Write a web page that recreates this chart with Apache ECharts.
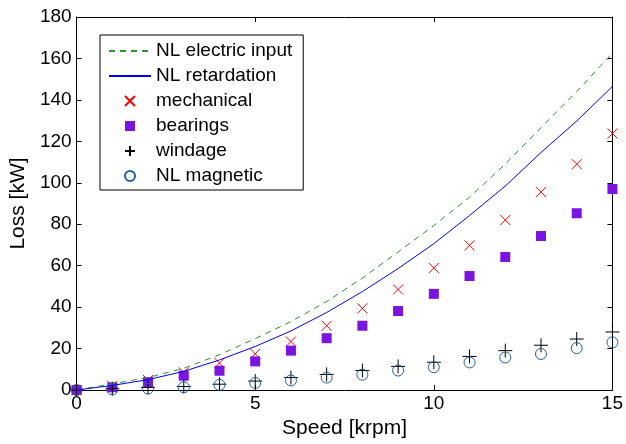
<!DOCTYPE html>
<html>
<head>
<meta charset="utf-8">
<script src="https://cdn.jsdelivr.net/npm/echarts@6/dist/echarts.min.js"></script>
<style>
html,body{margin:0;padding:0;background:#fff;}
#main{width:626px;height:444px;}
</style>
</head>
<body>
<div id="main"></div>
<script>
var speed = [0,1,2,3,4,5,6,7,8,9,10,11,12,13,14,15];
var elecInput = [0,3,6,10.5,17,24.8,33,42.7,54,66.6,79.4,93,109,126.6,144,162.6];
var retardation = [0,2.2,5,9,14.5,21,28.5,37.4,47.5,58.6,70.6,84.2,98.4,114.6,129.8,146.5];
var mechanical = [0,1.9,4.8,8.5,13,17.5,23.4,31,39.4,48.5,58.9,69.8,82,95.5,109,123.8];
var bearings = [0,1.3,3.8,6.9,9.3,13.8,19,25,31,38.1,46.4,55,64.2,74.3,85.3,97];
var windage = [0,0.6,1.2,1.7,2.8,4.3,6,7.5,9.4,11.4,13.4,16.2,19,21.6,24.6,28];
var magnetic = [0,0.3,0.7,1.3,2.5,3.4,4.6,6,7.4,9.4,11,13.3,15.7,17.4,20.2,23];
var seriesNames = ['NL electric input','NL retardation','mechanical','bearings','windage','NL magnetic'];

function pairs(ys){ return speed.map(function(x,i){ return [x, ys[i]]; }); }

var FONT = 'Liberation Sans, Arial, sans-serif';
var chart = echarts.init(document.getElementById('main'), null, {renderer:'canvas'});
var axisCommon = {
  axisLine:{show:true, onZero:false, lineStyle:{color:'#000', width:1}},
  axisTick:{show:true, inside:true, length:5, lineStyle:{color:'#000'}},
  splitLine:{show:false}
};
var CLEAR = 'rgba(0,0,0,0)';
chart.setOption({
  backgroundColor:'#fff',
  animation:false,
  grid:{left:76, right:13, top:17, bottom:52, containLabel:false},
  legend:{
    orient:'vertical', left:100, top:35,
    data: seriesNames,
    backgroundColor:'#fff',
    borderColor:'#000', borderWidth:1,
    padding:[6,11,4,8],
    itemWidth:42, itemHeight:10, itemGap:5,
    symbolKeepAspect:true,
    textStyle:{fontFamily:FONT, fontSize:19, color:'#000', lineHeight:20},
    selectedMode:false
  },
  xAxis:[
    Object.assign({type:'value', min:0, max:15, interval:5, position:'bottom',
      name:'Speed [krpm]', nameLocation:'middle', nameGap:28,
      nameTextStyle:{fontFamily:FONT, fontSize:21, color:'#000'},
      axisLabel:{fontFamily:FONT, fontSize:19, color:'#000', margin:4}}, axisCommon),
    Object.assign({type:'value', min:0, max:15, interval:5, position:'top',
      axisLabel:{show:false}}, axisCommon)
  ],
  yAxis:[
    Object.assign({type:'value', min:0, max:180, interval:20, position:'left',
      name:'Loss [kW]', nameLocation:'middle', nameGap:44,
      nameTextStyle:{fontFamily:FONT, fontSize:21, color:'#000'},
      axisLabel:{fontFamily:FONT, fontSize:19, color:'#000', margin:5}}, axisCommon),
    Object.assign({type:'value', min:0, max:180, interval:20, position:'right',
      axisLabel:{show:false}}, axisCommon)
  ],
  series:[
    {name:seriesNames[0], type:'line', data:pairs(elecInput), symbol:'none',
     lineStyle:{color:'#2a952a', width:1, type:[6,5]}, itemStyle:{color:CLEAR, borderWidth:0, opacity:0}},
    {name:seriesNames[1], type:'line', data:pairs(retardation), symbol:'none',
     lineStyle:{color:'#0000ff', width:1}, itemStyle:{color:CLEAR, borderWidth:0, opacity:0}},
    {name:seriesNames[2], type:'scatter', data:pairs(mechanical), clip:false,
     symbol:'path://M0,0L10,10M10,0L0,10', symbolSize:10,
     itemStyle:{color:CLEAR, borderColor:'#ff0000', borderWidth:1, opacity:1}},
    {name:seriesNames[3], type:'scatter', data:pairs(bearings), clip:false,
     symbol:'path://M0,0L10,0L10,10L0,10Z', symbolSize:10,
     itemStyle:{color:'#7b14e0', opacity:1}},
    {name:seriesNames[4], type:'scatter', data:pairs(windage), clip:false,
     symbol:'path://M5,0L5,10M0,5L10,5', symbolSize:14,
     itemStyle:{color:CLEAR, borderColor:'#000', borderWidth:1, opacity:1}},
    {name:seriesNames[5], type:'scatter', data:pairs(magnetic), clip:false,
     symbol:'circle', symbolSize:11,
     itemStyle:{color:CLEAR, borderColor:'#1f5f9f', borderWidth:1, opacity:1}}
  ]
});
</script>
</body>
</html>
